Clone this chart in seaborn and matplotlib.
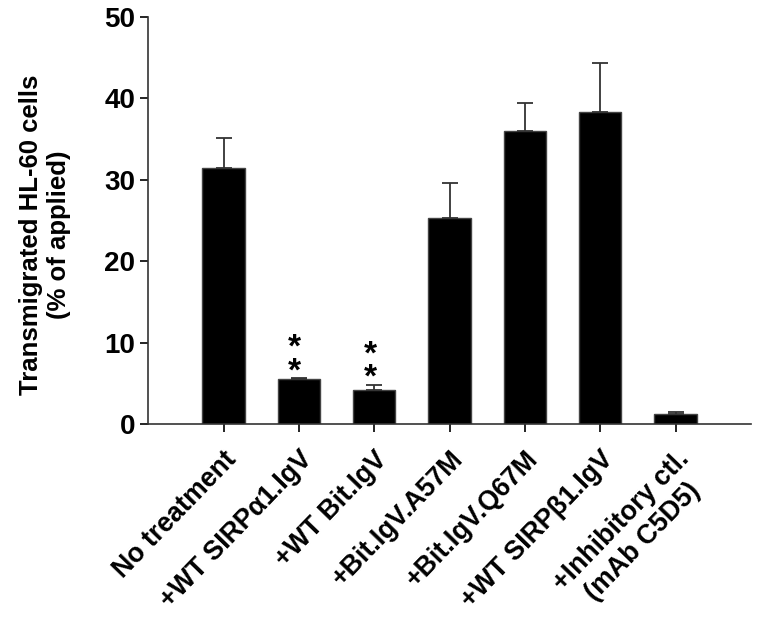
import seaborn as sns
import matplotlib.pyplot as plt
import matplotlib.transforms as mtransforms
import pandas as pd
import numpy as np

groups = ['No treatment', '+WT SIRP\u03b11.IgV', '+WT Bit.IgV', '+Bit.IgV.A57M',
          '+Bit.IgV.Q67M', '+WT SIRP\u03b21.IgV', '+Inhibitory ctl.\n(mAb C5D5)']
means = [31.4, 5.5, 4.2, 25.3, 36.0, 38.3, 1.2]
errors = [3.7, 0.15, 0.6, 4.3, 3.4, 6.0, 0.3]
stars = ['', '*\n*', '*\n*', '', '', '', '']

df = pd.DataFrame({'group': groups, 'mean': means})

sns.set_theme(style='ticks')
plt.rcParams['font.family'] = ['Liberation Sans', 'DejaVu Sans']
plt.rcParams['font.weight'] = 'bold'
for k in ['text.color', 'axes.labelcolor', 'xtick.color', 'ytick.color']:
    plt.rcParams[k] = 'black'

fig = plt.figure(figsize=(7.6, 6.25), dpi=100)
ax = fig.add_axes([0.195, 0.3216, 0.793, 0.6512])

sns.barplot(data=df, x='group', y='mean', color='black', width=0.56,
            saturation=1, edgecolor='#444444', linewidth=1, ax=ax)
pos = np.arange(len(groups))
ax.errorbar(pos, means, yerr=[np.zeros(len(errors)), errors], fmt='none',
            ecolor='#333333', elinewidth=1.3, capsize=5.5, capthick=1.3)

# significance stars
for p, m, e, s in zip(pos, means, errors, stars):
    if s:
        ax.annotate(s, xy=(p, m + e), xytext=(-3, -1.5),
                    textcoords='offset points', ha='center', va='baseline',
                    fontsize=24, fontweight='bold', linespacing=0.68)

ax.set_xlim(-1, 7)
ax.set_ylim(0, 50)
ax.set_yticks([0, 10, 20, 30, 40, 50])
ax.set_xlabel('')
ax.set_ylabel('Transmigrated HL-60 cells\n(% of applied)', fontsize=18.5,
              fontweight='bold')
ax.yaxis.set_label_coords(-0.171, 0.464)
ax.yaxis.label.set_va('center')
ax.set_xticks(pos)
ax.set_xticklabels(groups, rotation=46, ha='right', va='top',
                   rotation_mode='anchor', fontsize=19.3, fontweight='bold',
                   multialignment='center')
shift = mtransforms.ScaledTranslation(2 / 100, -2 / 100, fig.dpi_scale_trans)
for lab in ax.get_xticklabels():
    lab.set_transform(lab.get_transform() + shift)
ax.tick_params(axis='y', labelsize=20, direction='out', length=6, width=1.2)
ax.tick_params(axis='x', direction='out', length=6, width=1.2, pad=10)
for lab in ax.get_yticklabels():
    lab.set_fontweight('bold')
sns.despine(ax=ax)
for side in ['left', 'bottom']:
    ax.spines[side].set_linewidth(1.2)
    ax.spines[side].set_color('#333333')

fig.savefig('out.png', dpi=100)
